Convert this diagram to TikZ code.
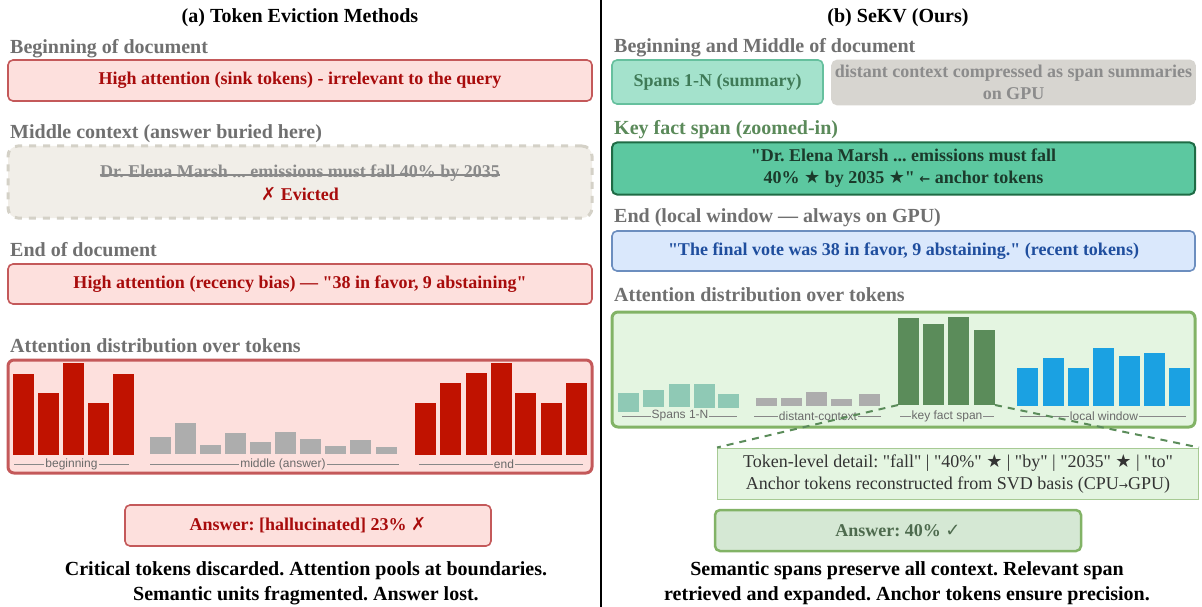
\documentclass[tikz,border=0pt]{standalone}
\usepackage{fontspec}
\setmainfont{Liberation Serif}[Ligatures=TeXOff]
\newfontfamily\symfont{DejaVu Sans}
\newfontfamily\barfont{Liberation Sans}
\usepackage{xcolor}
\usetikzlibrary{arrows.meta}

\definecolor{redfill}{HTML}{FDE0DD}
\definecolor{redline}{HTML}{C4595A}
\definecolor{redtext}{HTML}{A80C0C}
\definecolor{redbar}{HTML}{C01200}
\definecolor{graybar}{HTML}{ADADAD}
\definecolor{hdrgray}{HTML}{707070}
\definecolor{evfill}{HTML}{F1EEE8}
\definecolor{evline}{HTML}{D4D1C7}
\definecolor{striketext}{HTML}{8A8A8A}
\definecolor{mintfill}{HTML}{A4E2CC}
\definecolor{mintline}{HTML}{66C09E}
\definecolor{minttext}{HTML}{3F7A57}
\definecolor{distfill}{HTML}{D7D5D0}
\definecolor{disttext}{HTML}{8C8C8C}
\definecolor{keyhdr}{HTML}{5B8A5A}
\definecolor{keyfill}{HTML}{5CC8A0}
\definecolor{keyline}{HTML}{1F6B45}
\definecolor{keytext}{HTML}{1B3A2B}
\definecolor{bluefill}{HTML}{DAE8FC}
\definecolor{blueline}{HTML}{6C8EBF}
\definecolor{bluetext}{HTML}{1F4E9E}
\definecolor{chartfill}{HTML}{E4F5E1}
\definecolor{chartline}{HTML}{82B366}
\definecolor{spanbar}{HTML}{8FC9B5}
\definecolor{keybar}{HTML}{5B8C5A}
\definecolor{localbar}{HTML}{1BA1E2}
\definecolor{ansfill}{HTML}{D5E8D4}
\definecolor{anstext}{HTML}{4E6B4E}
\definecolor{lblgray}{HTML}{6A6A6A}

\newcommand{\sym}[1]{{\symfont #1}}
\frenchspacing

\begin{document}
\begin{tikzpicture}[x=1pt, y=-1pt,
  every node/.style={font=\fontsize{18}{22}\selectfont, inner sep=0},
  title/.style={font=\fontsize{20}{24}\selectfont\bfseries},
  hdr/.style={font=\fontsize{20}{24}\selectfont\bfseries, text=hdrgray, anchor=west},
  textbox/.style={font=\fontsize{18}{22}\selectfont\bfseries, draw, rounded corners=5, line width=1.6, align=center},
  redbox/.style={textbox, fill=redfill, draw=redline, text=redtext},
  chartbox/.style={draw, rounded corners=6, line width=3},
  barlbl/.style={font=\barfont\fontsize{12}{14}\selectfont, text=lblgray, inner sep=1},
  lblline/.style={draw=lblgray!80, line width=0.9},
  caption/.style={font=\fontsize{20}{25}\selectfont\bfseries, align=center}]
\useasboundingbox (0,0) rectangle (1202,607);
\draw[line width=2] (601,0) -- (601,607);

% left half
\node[title] (titleA) at (300,17.5) {(a) Token Eviction Methods};
\node[hdr] (hBeg) at (10,48.5) {Beginning of document};
\node[redbox, minimum width=584, minimum height=41] (sink) at (300,80.5) {High attention (sink tokens) - irrelevant to the query};
\node[hdr] (hMid) at (10,134) {Middle context (answer buried here)};
\node[textbox, fill=evfill, draw=evline, line width=3, dash pattern=on 7 off 7, rounded corners=10, minimum width=584, minimum height=72] (evict) at (300,182) {};
\node[font=\fontsize{18}{22}\selectfont\bfseries, text=striketext] (struck) at (300,173) {Dr. Elena Marsh ... emissions must fall 40\% by 2035};
\draw[striketext, line width=1.6] (struck.mid west) -- (struck.mid east);
\node[font=\fontsize{18}{22}\selectfont\bfseries, text=redtext] (evicted) at (300,194) {\sym{✗} Evicted};
\node[hdr] (hEnd) at (10,249.5) {End of document};
\node[redbox, minimum width=584, minimum height=40] (recent) at (300,284) {High attention (recency bias) — "38 in favor, 9 abstaining"};
\node[hdr] (hAttA) at (10,345.5) {Attention distribution over tokens};
\node[chartbox, fill=redfill, draw=redline, minimum width=584, minimum height=113] (chartA) at (300,416.5) {};
\foreach \x/\t in {13/374,38/393,63/363,88/403,113/374}
  \fill[redbar] (\x,\t) rectangle (\x+21,455);
\foreach \x/\t in {150/437,175/423,200/445,225/433,250/442,275/432,300/439,325/446,350/440,376/447}
  \fill[graybar] (\x,\t) rectangle (\x+21,454);
\foreach \x/\t in {415/403,440/383,466/373,491/363,515/393,541/403,566/383}
  \fill[redbar] (\x,\t) rectangle (\x+21,455);
\draw[lblline] (14,464) -- (129,464);
\node[barlbl, fill=redfill] (lBeg) at (71.5,464) {beginning};
\draw[lblline] (150,464) -- (399,464);
\node[barlbl, fill=redfill] (lMid) at (283,464) {middle (answer)};
\draw[lblline] (419,464) -- (583,464);
\node[barlbl, fill=redfill] (lEnd) at (504,464) {end};
\node[redbox, minimum width=366, minimum height=41] (ansA) at (308,525.5) {Answer: [hallucinated] 23\% \sym{✗}};
\node[caption] (capA) at (306,583) {Critical tokens discarded. Attention pools at boundaries.\\Semantic units fragmented. Answer lost.};

% right half
\node[title] (titleB) at (898,17.5) {(b) SeKV (Ours)};
\node[hdr] (hBegMid) at (614,47.5) {Beginning and Middle of document};
\node[textbox, fill=mintfill, draw=mintline, text=minttext, minimum width=211, minimum height=44] (spans) at (717.5,82) {Spans 1-N (summary)};
\node[textbox, fill=distfill, draw=distfill, text=disttext, minimum width=363, minimum height=44] (distant) at (1013.5,82.5) {distant context compressed as span summaries\\on GPU};
\node[hdr, text=keyhdr] (hKey) at (614,129.5) {Key fact span (zoomed-in)};
\node[textbox, fill=keyfill, draw=keyline, text=keytext, line width=2, minimum width=583, minimum height=52] (keyspan) at (903.5,168.5) {"Dr. Elena Marsh ... emissions must fall\\40\% \sym{★} by 2035 \sym{★}" {\symfont\fontsize{13}{16}\selectfont ←} anchor tokens};
\node[hdr] (hLocal) at (614,217.5) {End (local window — always on GPU)};
\node[textbox, fill=bluefill, draw=blueline, text=bluetext, minimum width=583, minimum height=40] (local) at (903.5,251) {"The final vote was 38 in favor, 9 abstaining." (recent tokens)};
\node[hdr] (hAttB) at (614,294.5) {Attention distribution over tokens};
\node[chartbox, fill=chartfill, draw=chartline, minimum width=583, minimum height=115] (chartB) at (903.5,369.5) {};
\fill[spanbar] (618,393) rectangle (639,412);
\foreach \x/\t/\b in {643/390/407,669/384/407,694/384/408,718/394/408}
  \fill[spanbar] (\x,\t) rectangle (\x+21,\b);
\foreach \x/\t in {755.5/398,780.5/398,805.5/392,831/399,859/394}
  \fill[graybar] (\x,\t) rectangle (\x+21,406);
\foreach \x/\t in {898/318,923/324,948/317,974/330}
  \fill[keybar] (\x,\t) rectangle (\x+21,405);
\foreach \x/\t in {1017/368,1043/358,1068/368,1093/348,1119/356,1144/353,1169/368}
  \fill[localbar] (\x,\t) rectangle (\x+21,406);
\draw[lblline] (622,416) -- (737,416);
\node[barlbl, fill=chartfill] (lSpans) at (680,416) {Spans 1-N};
\draw[lblline] (754,416) -- (881,416);
\node[barlbl, fill=chartfill] (lDist) at (818,416) {distant-context};
\draw[lblline] (900,416) -- (994,416);
\node[barlbl, fill=chartfill] (lKey) at (947,416) {key fact span};
\draw[lblline] (1020,416) -- (1186,416);
\node[barlbl, fill=chartfill] (lLocal) at (1104,416) {local window};
\coordinate (keyL) at (898,405);
\coordinate (keyR) at (995,405);
\node[draw=chartline!70, fill=chartfill, line width=1, minimum width=481, minimum height=51, align=center, text=black!80] (detail) at (958,473.5) {Token-level detail: "fall" | "40\%" \sym{★} | "by" | "2035" \sym{★} | "to"\\Anchor tokens reconstructed from SVD basis (CPU{\symfont\fontsize{11}{14}\selectfont →}GPU)};
\draw[keybar, line width=2, dash pattern=on 7 off 6] (keyL) -- (detail.north west);
\draw[keybar, line width=2, dash pattern=on 7 off 6] (keyR) -- (detail.north east);
\node[textbox, fill=ansfill, draw=chartline, text=anstext, line width=2.5, minimum width=366, minimum height=41] (ansB) at (898,530.5) {Answer: 40\% \sym{✓}};
\node[caption] (capB) at (907,583) {Semantic spans preserve all context. Relevant span\\retrieved and expanded. Anchor tokens ensure precision.};
\end{tikzpicture}
\end{document}
